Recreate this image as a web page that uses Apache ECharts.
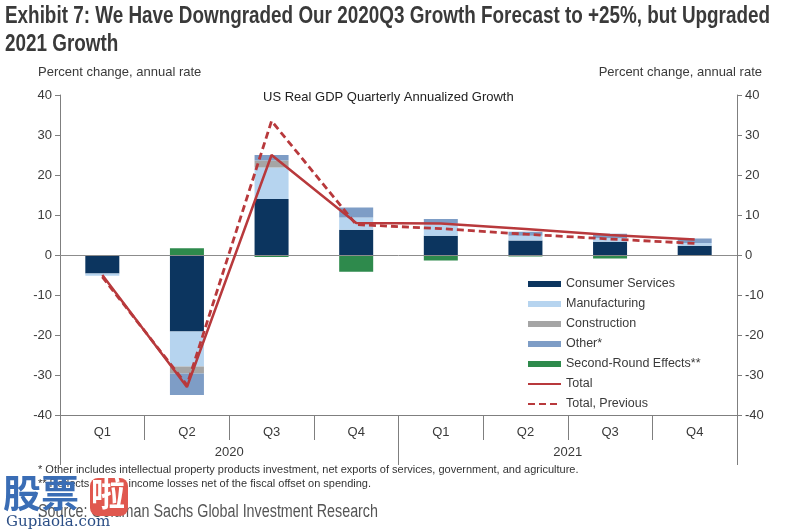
<!DOCTYPE html>
<html>
<head>
<meta charset="utf-8">
<script src="https://cdn.jsdelivr.net/npm/echarts@6/dist/echarts.min.js"></script>
<style>html,body{margin:0;padding:0;background:#fff}#c{width:792px;height:531px}</style>
</head>
<body>
<div id="c"></div>
<script>
const quarters = ['Q1','Q2','Q3','Q4','Q1','Q2','Q3','Q4'];
const years = ['2020','2021'];
const consumerServices = [-4.6, -19.1, 14.0, 6.3, 4.8, 3.6, 3.3, 2.3];
const manufacturing = [-0.6, -8.8, 7.9, 3.1, 3.1, 1.2, 0.9, 0.7];
const construction = [0, -1.7, 1.7, 0, 0, 0, 0, 0];
const other = [0, -5.4, 1.4, 2.5, 1.1, 1.0, 1.1, 1.1];
const secondRound = [0, 1.7, -0.5, -4.2, -1.4, -0.4, -0.85, -0.2];
const total = [-5.0, -33.0, 25.0, 8.0, 7.9, 6.5, 5.0, 3.9];
const totalPrevious = [-5.5, -32.5, 33.5, 7.6, 6.6, 5.2, 4.0, 2.9];
const yTicks = { min: -40, max: 40, interval: 10 };

const AX = '#7f7f7f';
const TXT = '#3a3a3a';
const FONT = '"Liberation Sans", Arial, sans-serif';
const RED = '#b8393c';

const TITLE1 = 'Exhibit 7: We Have Downgraded Our 2020Q3 Growth Forecast to +25%, but Upgraded';
const TITLE2 = '2021 Growth';
const SOURCE = 'Source: Goldman Sachs Global Investment Research';
const TITLE_FONT = 'bold 23px "Liberation Sans", Arial, sans-serif';
const SOURCE_FONT = '18px "Liberation Sans", Arial, sans-serif';

// condense text to fit the width it takes in the reference (narrow font unavailable)
const mctx = document.createElement('canvas').getContext('2d');
function widthOf(text, font) { mctx.font = font; return mctx.measureText(text).width; }
const titleScale = 765 / widthOf(TITLE1, TITLE_FONT);
const sourceScale = 340 / widthOf(SOURCE, SOURCE_FONT);

const chart = echarts.init(document.getElementById('c'), null, { renderer: 'canvas' });

function yAxis(pos) {
  return {
    type: 'value', position: pos, min: yTicks.min, max: yTicks.max, interval: yTicks.interval,
    axisLine: { show: true, lineStyle: { color: AX, width: 1 } },
    axisTick: { show: true, length: 5, lineStyle: { color: AX } },
    splitLine: { show: false },
    axisLabel: { color: TXT, fontFamily: FONT, fontSize: 13, margin: 8 }
  };
}

function bar(name, data, color, extra) {
  return Object.assign({
    name, type: 'bar', stack: 'g', data, barWidth: 34,
    itemStyle: { color }, emphasis: { disabled: true }
  }, extra || {});
}

const noSymbol = { opacity: 0, borderWidth: 0 };

chart.setOption({
  animation: false,
  textStyle: { fontFamily: FONT },
  grid: { left: 60, right: 55, top: 95, bottom: 116 },
  xAxis: [
    {
      type: 'category', data: quarters, position: 'bottom', boundaryGap: true,
      axisLine: { onZero: false, lineStyle: { color: AX } },
      axisTick: { show: true, interval: 0, length: 25, lineStyle: { color: AX } },
      axisLabel: { color: TXT, fontSize: 13, margin: 11, interval: 0, fontFamily: FONT }
    },
    {
      type: 'category', data: years, position: 'bottom', boundaryGap: true,
      axisLine: { show: false, onZero: false },
      axisTick: { show: true, interval: 0, length: 50, lineStyle: { color: AX } },
      axisLabel: { color: TXT, fontSize: 13, margin: 31, interval: 0, fontFamily: FONT }
    }
  ],
  yAxis: [yAxis('left'), yAxis('right')],
  legend: {
    orient: 'vertical', left: 522, top: 272, itemGap: 6, itemWidth: 33, itemHeight: 6,
    textStyle: { color: TXT, fontSize: 12.5, fontFamily: FONT, lineHeight: 14 },
    data: [
      { name: 'Consumer Services', icon: 'rect' },
      { name: 'Manufacturing', icon: 'rect' },
      { name: 'Construction', icon: 'rect' },
      { name: 'Other*', icon: 'rect' },
      { name: 'Second-Round Effects**', icon: 'rect' },
      { name: 'Total', itemStyle: noSymbol },
      { name: 'Total, Previous', itemStyle: noSymbol }
    ]
  },
  series: [
    bar('Consumer Services', consumerServices, '#0c355f', {
      markLine: {
        silent: true, symbol: ['none', 'none'], label: { show: false },
        lineStyle: { color: '#8c8c8c', width: 1, type: 'solid' },
        data: [{ yAxis: 0 }]
      }
    }),
    bar('Manufacturing', manufacturing, '#b6d4ef'),
    bar('Construction', construction, '#a5a5a5'),
    bar('Other*', other, '#7e9dc6'),
    bar('Second-Round Effects**', secondRound, '#2e8a4c'),
    {
      name: 'Total', type: 'line', data: total, symbol: 'none', z: 5,
      lineStyle: { color: RED, width: 2.5 }, itemStyle: { color: RED }
    },
    {
      name: 'Total, Previous', type: 'line', data: totalPrevious, symbol: 'none', z: 4,
      lineStyle: { color: RED, width: 2.8, type: [7, 4] }, itemStyle: { color: RED }
    }
  ],
  graphic: [
    { type: 'text', x: 5, y: 5, scaleX: titleScale, style: { text: TITLE1, fill: '#3a3a3a', font: TITLE_FONT } },
    { type: 'text', x: 5, y: 33, scaleX: titleScale, style: { text: TITLE2, fill: '#3a3a3a', font: TITLE_FONT } },
    { type: 'text', left: 38, top: 66, style: { text: 'Percent change, annual rate', fill: TXT, font: '13px "Liberation Sans", Arial, sans-serif' } },
    { type: 'text', right: 30, top: 66, style: { text: 'Percent change, annual rate', fill: TXT, font: '13px "Liberation Sans", Arial, sans-serif' } },
    { type: 'text', left: 263, top: 91, style: { text: 'US Real GDP Quarterly Annualized Growth', fill: '#222', font: '13px "Liberation Sans", Arial, sans-serif' } },
    { type: 'text', left: 38, top: 464, style: { text: '* Other includes intellectual property products investment, net exports of services, government, and agriculture.', fill: '#333', font: '11px "Liberation Sans", Arial, sans-serif' } },
    { type: 'text', left: 38, top: 478, style: { text: '** Reflects private income losses net of the fiscal offset on spending.', fill: '#333', font: '11px "Liberation Sans", Arial, sans-serif' } },
    { type: 'text', x: 38, y: 503, scaleX: sourceScale, style: { text: SOURCE, fill: '#555', font: SOURCE_FONT } },
    { type: 'text', left: 3, top: 474, z: 100, style: { text: '股票', fill: '#3a6db5', font: 'bold 38px "Noto Sans CJK SC", sans-serif' } },
    { type: 'rect', left: 90, top: 478, z: 100, shape: { width: 38, height: 38, r: 8 }, style: { fill: '#e0584f' } },
    { type: 'text', left: 91, top: 476, z: 101, style: { text: '啦', fill: '#fff', font: 'bold 34px "Noto Sans CJK SC", sans-serif' } },
    { type: 'text', left: 6, top: 515, z: 100, style: { text: 'Gupiaola.com', fill: '#2c4f86', font: '15px "DejaVu Serif", serif' } }
  ]
});
</script>
</body>
</html>
